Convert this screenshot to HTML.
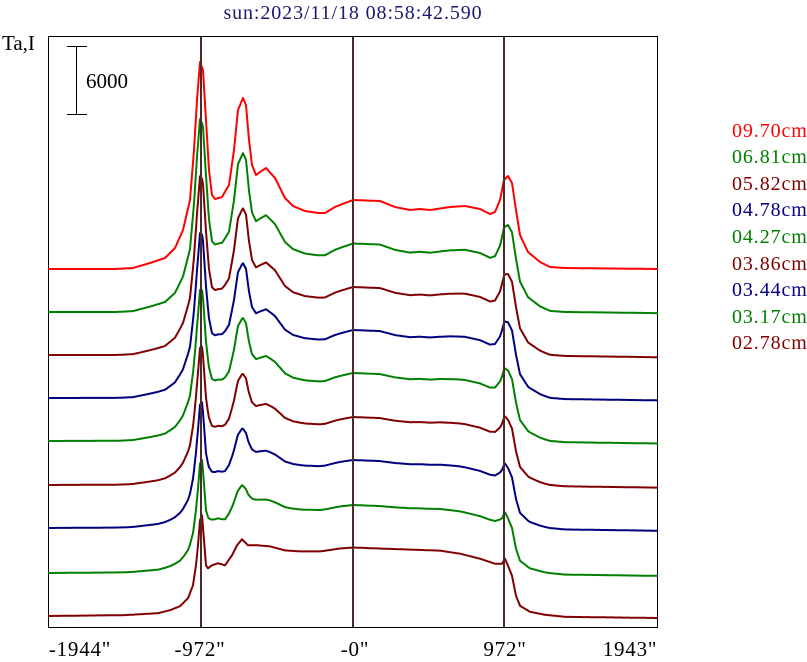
<!DOCTYPE html>
<html><head><meta charset="utf-8"><style>
html,body{margin:0;padding:0;background:#fff;width:807px;height:662px;overflow:hidden}
svg{display:block}
text{font-family:"Liberation Serif",serif}
</style></head><body>
<svg id="s" width="807" height="662" viewBox="0 0 807 662" xmlns="http://www.w3.org/2000/svg">
<rect x="0" y="0" width="807" height="662" fill="#fff"/>
<text x="353" y="19" font-size="20" letter-spacing="0.9" fill="#1a1a6e" text-anchor="middle">sun:2023/11/18 08:58:42.590</text>
<text x="2" y="50" font-size="21" fill="#000">Ta,I</text>
<rect x="48.5" y="36.5" width="609" height="591" fill="none" stroke="#000" stroke-width="1"/>
<g stroke="#000" stroke-width="1">
<line x1="76.5" y1="46" x2="76.5" y2="114"/>
<line x1="67" y1="46.5" x2="87" y2="46.5"/>
<line x1="67" y1="114.5" x2="87" y2="114.5"/>
</g>
<text x="86" y="88" font-size="21" fill="#000">6000</text>
<g id="traces" fill="none" stroke-width="2" stroke-linejoin="round"></g>
<g stroke="#4a2a2a" stroke-width="2">
<line x1="201" y1="37" x2="201" y2="627"/>
<line x1="353" y1="37" x2="353" y2="627"/>
<line x1="504" y1="37" x2="504" y2="627"/>
</g>
<g font-size="21" fill="#000" text-anchor="middle" letter-spacing="0.8">
<text x="80" y="656">-1944"</text>
<text x="200" y="656">-972"</text>
<text x="355" y="656">-0"</text>
<text x="505" y="656">972"</text>
<text x="630" y="656">1943"</text>
</g>
<g font-size="20" letter-spacing="0.9">
<text x="732" y="137" fill="#ff0000">09.70cm</text>
<text x="732" y="163" fill="#008000">06.81cm</text>
<text x="732" y="190" fill="#800000">05.82cm</text>
<text x="732" y="216" fill="#000080">04.78cm</text>
<text x="732" y="243" fill="#008000">04.27cm</text>
<text x="732" y="270" fill="#800000">03.86cm</text>
<text x="732" y="296" fill="#000080">03.44cm</text>
<text x="732" y="323" fill="#008000">03.17cm</text>
<text x="732" y="349" fill="#800000">02.78cm</text>
</g>
</svg>
<script>
var RT=[[48,269],[115,269],[133,268],[150,263],[165,258],[175,248],[183,230],[190,200],[194,150],[197,100],[200,62],[203,70],[206,120],[209,170],[212,195],[215,199],[222,197],[229,185],[234,150],[238,110],[243,98],[246,105],[249,140],[252,165],[256,175],[260,172],[266,168],[275,178],[285,198],[293,206],[305,211],[318,213],[325,213],[335,207],[345,203],[353,200],[380,201],[395,207],[410,210],[420,209],[430,210],[450,207],[465,206],[480,209],[490,214],[495,212],[500,200],[504,180],[508,176],[512,183],[516,210],[520,235],[528,252],[540,262],[550,267],[565,268],[658,269]];
var BT=[[48,616],[125,615],[158,613],[170,610],[180,606],[188,598],[193,585],[196,565],[198,545],[200,520],[202,515],[204,540],[206,565],[208,568],[212,565],[218,563],[225,565],[232,555],[237,545],[242,539],[248,545],[258,545],[270,546],[285,550],[300,551],[320,551],[340,548],[353,547],[380,548],[410,549],[440,550],[460,553],[480,558],[495,563],[502,563],[505,558],[508,565],[512,575],[516,595],[520,605],[530,611],[545,614],[565,616],[658,617]];
function interp(T,base){var o=[];for(var x=48;x<=658;x++){for(var k=1;k<T.length;k++){if(T[k][0]>=x){var a=T[k-1],b=T[k];var f=(x-a[0])/(b[0]-a[0]);o.push(a[1]+(b[1]-a[1])*f-base);break;}}}return o;}
var r=interp(RT,269),b=interp(BT,616);
var BL=[269,312,355,398,441,485,528,573,616],BR=[269,313,357,400,443,487,530,575,617];
var C=["#ff0000","#008000","#800000","#000080","#008000","#800000","#000080","#008000","#800000"];
var h="";
for(var i=0;i<9;i++){var t=i/8,d="";
for(var j=0;j<r.length;j++){var x=48+j;var v=r[j]+(b[j]-r[j])*t;
var base=BL[i]+(BR[i]-BL[i])*(x-48)/610;
d+=(j?"L":"M")+x+","+(base+v).toFixed(1);}
h+='<path d="'+d+'" stroke="'+C[i]+'"/>';}
document.getElementById("traces").innerHTML=h;
</script>
</body></html>
